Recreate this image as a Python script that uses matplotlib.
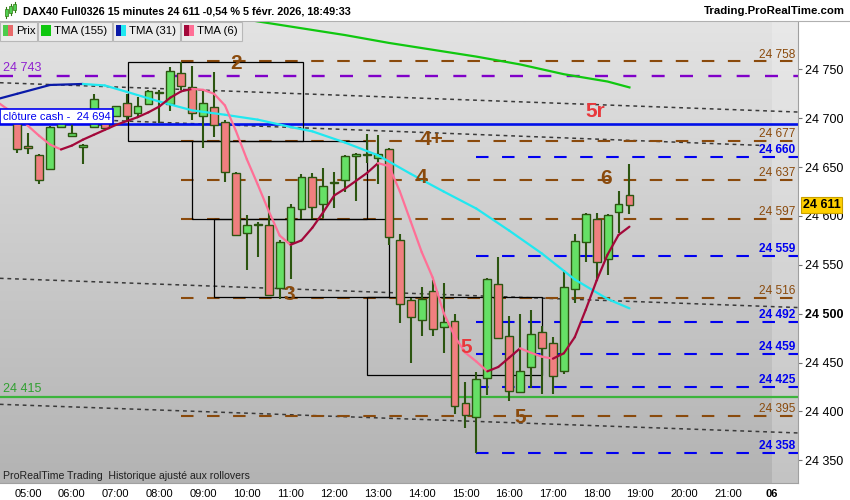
import numpy as np
import matplotlib
matplotlib.use("Agg")
import matplotlib.pyplot as plt
from matplotlib.patches import Rectangle
from matplotlib.colors import LinearSegmentedColormap

plt.rcParams['font.family'] = ['Liberation Sans', 'DejaVu Sans']

# 15 minute candles, 04:45 -> 18:45
opens  = [24700, 24672, 24662, 24648, 24691, 24682, 24671, 24691, 24705, 24702,
          24716, 24705, 24715, 24726, 24715, 24746, 24732, 24702, 24711, 24696,
          24644, 24583, 24591, 24591, 24526, 24573, 24607, 24640, 24612, 24634,
          24637, 24661, 24662, 24659, 24668, 24575, 24514, 24494, 24523, 24486,
          24493, 24409, 24394, 24434, 24530, 24477, 24420, 24445, 24481, 24470,
          24441, 24525, 24573, 24597, 24556, 24604, 24621]
highs  = [24704, 24685, 24663, 24692, 24704, 24695, 24674, 24725, 24708, 24712,
          24725, 24722, 24729, 24729, 24752, 24757, 24753, 24729, 24747, 24698,
          24645, 24601, 24594, 24620, 24575, 24612, 24643, 24644, 24649, 24645,
          24662, 24664, 24684, 24683, 24670, 24582, 24516, 24527, 24534, 24531,
          24500, 24430, 24440, 24537, 24558, 24498, 24500, 24504, 24487, 24476,
          24545, 24582, 24603, 24603, 24602, 24626, 24653]
lows   = [24664, 24663, 24633, 24647, 24690, 24681, 24653, 24690, 24688, 24702,
          24696, 24700, 24714, 24695, 24707, 24729, 24698, 24669, 24681, 24635,
          24580, 24545, 24558, 24518, 24515, 24536, 24597, 24597, 24598, 24608,
          24625, 24615, 24654, 24633, 24570, 24490, 24450, 24477, 24477, 24460,
          24397, 24383, 24357, 24417, 24474, 24411, 24419, 24424, 24418, 24418,
          24438, 24511, 24553, 24533, 24540, 24583, 24602]
closes = [24668, 24669, 24637, 24691, 24700, 24685, 24673, 24720, 24690, 24712,
          24702, 24712, 24728, 24727, 24748, 24733, 24705, 24716, 24693, 24645,
          24581, 24591, 24592, 24519, 24573, 24609, 24640, 24609, 24631, 24635,
          24661, 24663, 24663, 24663, 24578, 24510, 24497, 24515, 24484, 24491,
          24406, 24396, 24433, 24535, 24475, 24421, 24441, 24479, 24465, 24436,
          24527, 24574, 24602, 24553, 24601, 24612, 24611]

# moving averages (candle index, value)
ma155_i = [20, 22, 26, 30, 34, 38, 42, 46, 50, 54, 56]
ma155 = [24803, 24799, 24792, 24785, 24777, 24770, 24763, 24755, 24745, 24737.5, 24731.5]
ma31_i = [-2, 0, 3, 6, 8, 10, 13, 16, 19, 22, 25, 27, 30, 33, 36, 39, 42, 45, 48, 51, 54, 56]
ma31 = [24719, 24725, 24734, 24735, 24733.5, 24727, 24717, 24708, 24703.5, 24698.5, 24691,
        24686.5, 24675, 24662, 24643, 24625, 24607.5, 24585, 24561.5, 24535, 24515, 24505.5]
ma6_i = list(range(-2, 57))
ma6 = [24718, 24710, 24703, 24692, 24682, 24673, 24668, 24672, 24678, 24683, 24688, 24693,
       24697, 24701, 24706, 24712, 24721, 24727.5, 24730, 24729, 24725, 24713, 24687, 24658,
       24632, 24605, 24580, 24570.5, 24575, 24588, 24604, 24621, 24628, 24636, 24644, 24654,
       24651, 24625, 24594, 24563, 24537, 24501, 24477, 24460, 24451, 24441, 24445.5, 24455,
       24464.6, 24460, 24456, 24454, 24459.5, 24476, 24504, 24534, 24560.5, 24580.5, 24589]

# levels
brown_levels = [24758, 24677, 24637, 24597, 24516, 24395]
blue_levels = [24660, 24559, 24492, 24459, 24425, 24358]
purple_level = 24743
cash_close = 24694
green_level = 24415
last_price = 24611

# trend lines (start idx, start price, end idx, end price)
trends = [(-1.6, 24736.3, 71.4, 24706.3),
          (-1.6, 24702.0, 68.4, 24672.0),
          (-1.6, 24536.2, 71.4, 24506.3),
          (-1.6, 24407.3, 71.4, 24378.0)]

# boxes (left idx, right idx, low, high)
boxes = [(10.1, 26.1, 24677, 24757.5),
         (16.0, 32.0, 24597, 24677),
         (18.0, 34.0, 24516.7, 24597),
         (32.0, 48.0, 24437.3, 24516.7)]

# wave labels (idx, price, text, colour)
waves = [(20.0, 24756, '2', 'brown'), (24.85, 24520, '3', 'brown'),
         (37.9, 24678, '4+', 'brown'), (37.0, 24639, '4', 'brown'),
         (46.0, 24394, '5', 'brown'), (53.9, 24638, '6', 'brown'),
         (41.05, 24465, '5', 'red'), (52.9, 24707, '5r', 'red')]

hour_ticks = list(range(1, 70, 4))
hour_labels = ['%02d:00' % h for h in range(5, 22)] + ['06']
price_ticks = list(range(24350, 24751, 50))

BROWN = '#8a4a0c'
BLUE = '#0000f0'
W, H = 850, 500

fig = plt.figure(figsize=(8.5, 5), dpi=100)
ax = fig.add_axes([0, 17 / H, 798 / W, 461 / H])
x_lo, x_hi = -1.58, 71.42
y_lo, y_hi = 24326.8, 24798.4
ax.set_xlim(x_lo, x_hi)
ax.set_ylim(y_lo, y_hi)

# background gradient
cmap = LinearSegmentedColormap.from_list('bg', ['#b3b3b3', '#e3e3e3'])
ax.imshow(np.linspace(0, 1, 256).reshape(-1, 1), extent=[x_lo, x_hi, y_lo, y_hi],
          origin='lower', aspect='auto', cmap=cmap, zorder=0)
ax.axvspan(69.05, x_hi, color='white', alpha=0.22, lw=0, zorder=0.5)

# trend lines
for x0, y0, x1, y1 in trends:
    ax.plot([x0, x1], [y0, y1], color='#3a3a3a', lw=1.1, ls=(0, (2.5, 2.5)), zorder=1)

# horizontal levels
ax.axhline(purple_level, color='#8000c8', lw=1.7, ls=(0, (5.5, 6.5)), zorder=1.5)
ax.axhline(cash_close, color='#0010e8', lw=1.9, zorder=1.5)
ax.axhline(green_level, color='#3cb43c', lw=1.6, zorder=1.5)
for lv in brown_levels:
    ax.plot([15, x_hi], [lv, lv], color=BROWN, lw=1.5, ls=(0, (6, 6.5)), zorder=1.5)
for lv in blue_levels:
    ax.plot([42.0, x_hi], [lv, lv], color=BLUE, lw=1.5, ls=(0, (6, 6.5)), zorder=1.5)

# boxes
for l, r, lo, hi in boxes:
    ax.add_patch(Rectangle((l, lo), r - l, hi - lo, fill=False, ec='black', lw=0.9, zorder=2))

# candles
idx = np.arange(len(opens))
up = np.array(closes) >= np.array(opens)
bottoms = np.minimum(opens, closes)
heights = np.maximum(np.abs(np.array(closes) - np.array(opens)), 0.8)
ax.vlines(idx, lows, highs, color='#2c5510', lw=1.5, zorder=3)
ax.bar(idx, heights, bottom=bottoms, width=0.72,
       color=np.where(up, '#66e066', '#f07f7f'), edgecolor='#2c5510', lw=1.0, zorder=4)

# moving averages
ax.plot(ma155_i, ma155, color='#10c810', lw=1.6, zorder=5)
for i in range(len(ma31) - 1):
    c = '#0a1aa8' if ma31[i + 1] >= ma31[i] else '#20e8f0'
    ax.plot(ma31_i[i:i + 2], ma31[i:i + 2], color=c, lw=1.6, zorder=5, solid_capstyle='round')
for i in range(len(ma6) - 1):
    c = '#a3083a' if ma6[i + 1] >= ma6[i] else '#ff6f96'
    ax.plot(ma6_i[i:i + 2], ma6[i:i + 2], color=c, lw=1.6, zorder=5, solid_capstyle='round')

# wave labels
for xi, yv, t, col in waves:
    ax.text(xi, yv, t, color=BROWN if col == 'brown' else '#e8383c', fontsize=15,
            fontweight='bold', ha='center', va='center', zorder=6)

# level labels
lab_x = 71.15
for lv in brown_levels:
    ax.text(lab_x, lv + 7, f'{lv // 1000} {lv % 1000:03d}', color=BROWN, fontsize=8.6,
            ha='right', va='center', zorder=6)
for lv in blue_levels:
    ax.text(lab_x, lv + 7, f'{lv // 1000} {lv % 1000:03d}', color=BLUE, fontsize=8.6,
            fontweight='bold', ha='right', va='center', zorder=6)
ax.text(-1.35, purple_level + 8, '24 743', color='#9020d0', fontsize=9, va='center', zorder=6)
ax.text(-1.35, green_level + 8, '24 415', color='#30a030', fontsize=9, va='center', zorder=6)
ax.text(-1.3, cash_close + 7.5, 'clôture cash -  24 694', color=BLUE, fontsize=8,
        va='center', zorder=7,
        bbox=dict(boxstyle='square,pad=0.25', fc='white', ec=BLUE, lw=1.2))
ax.text(0.004, 0.016, 'ProRealTime Trading  Historique ajusté aux rollovers',
        transform=ax.transAxes, fontsize=7.6, color='#202020', va='center', zorder=7)

# axes
for s in ['left', 'top']:
    ax.spines[s].set_visible(False)
ax.spines['right'].set_color('#a0a0a0')
ax.spines['bottom'].set_color('#a0a0a0')
ax.yaxis.tick_right()
ax.set_yticks(price_ticks)
ax.set_yticklabels([f'{p // 1000} {p % 1000:03d}' for p in price_ticks])
ax.tick_params(axis='y', direction='out', length=3, color='#707070', labelsize=9, pad=2)
for lab in ax.get_yticklabels():
    if lab.get_text() == '24 500':
        lab.set_fontweight('bold')
ax.set_xticks(hour_ticks)
ax.set_xticklabels(hour_labels)
ax.tick_params(axis='x', length=0, labelsize=8, pad=4)
ax.get_xticklabels()[-1].set_fontweight('bold')

ax.text(71.85, last_price, '24 611', fontsize=9, fontweight='bold', va='center', ha='left',
        clip_on=False, zorder=8,
        bbox=dict(boxstyle='square,pad=0.15', fc='#ffd000', ec='#c8a000', lw=0.8))

# title bar
fig.add_artist(Rectangle((0, 1 - 21 / H), 1, 21 / H, transform=fig.transFigure,
                         fc='white', ec='none', zorder=1))
fig.add_artist(plt.Line2D([0, 1], [1 - 21 / H, 1 - 21 / H], transform=fig.transFigure,
                          color='#b0b0b0', lw=0.8, zorder=2))
for k, (bx, by0, by1) in enumerate([(6, 9, 16), (10.5, 6, 13), (15, 4, 10)]):
    fig.add_artist(plt.Line2D([bx / W, bx / W], [1 - (by1 + 2) / H, 1 - (by0 - 2) / H],
                              transform=fig.transFigure, color='#2e7a10', lw=0.8, zorder=3))
    fig.add_artist(Rectangle(((bx - 1.5) / W, 1 - by1 / H), 3 / W, (by1 - by0) / H,
                             transform=fig.transFigure, fc='#50d050', ec='#2e7a10', lw=0.5, zorder=4))
fig.text(23 / W, 1 - 11 / H, 'DAX40 Full0326 15 minutes 24 611 -0,54 % 5 févr. 2026, 18:49:33',
         fontsize=7.8, fontweight='bold', va='center', ha='left')
fig.text(845 / W, 1 - 11 / H, 'Trading.ProRealTime.com', fontsize=8.2, fontweight='bold',
         va='center', ha='right')

# legend row
legend = [(0, 37, 'Prix', ('#4ccc4c', '#e86a6a')),
          (38, 112, 'TMA (155)', ('#10c810', '#10c810')),
          (113, 180, 'TMA (31)', ('#0a1aa8', '#20e8f0')),
          (181, 242, 'TMA (6)', ('#a3083a', '#ff6f96'))]
for x0, x1, name, cols in legend:
    fig.add_artist(Rectangle((x0 / W, 1 - 41 / H), (x1 - x0) / W, 19 / H,
                             transform=fig.transFigure, fc='#ececec', ec='#b8b8b8', lw=0.8, zorder=5))
    fig.add_artist(Rectangle(((x0 + 3) / W, 1 - 36 / H), 5 / W, 11 / H,
                             transform=fig.transFigure, fc=cols[0], ec='none', zorder=6))
    fig.add_artist(Rectangle(((x0 + 8) / W, 1 - 36 / H), 5 / W, 11 / H,
                             transform=fig.transFigure, fc=cols[1], ec='none', zorder=6))
    fig.text((x0 + 16) / W, 1 - 31 / H, name, fontsize=8.2, va='center', ha='left', zorder=7)

fig.savefig('out.png', dpi=100, facecolor='white')
